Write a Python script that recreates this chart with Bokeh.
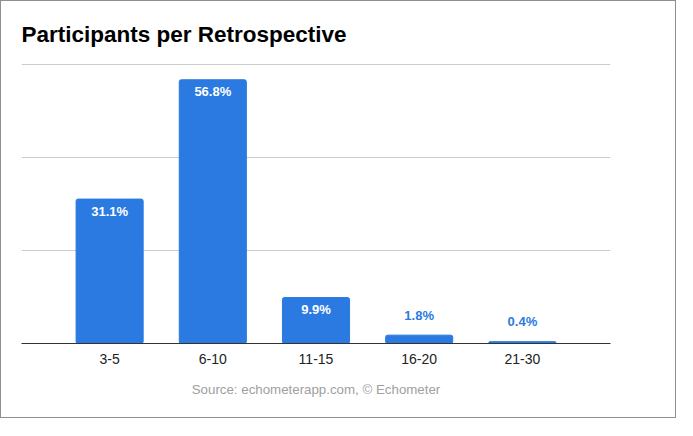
from bokeh.plotting import figure
from bokeh.models import ColumnDataSource, FactorRange, Title
from bokeh.core.properties import value
from bokeh.embed import file_html
from bokeh.resources import INLINE

categories = ["3-5", "6-10", "11-15", "16-20", "21-30"]
shares = [31.1, 56.8, 9.9, 1.8, 0.4]
labels = ["31.1%", "56.8%", "9.9%", "1.8%", "0.4%"]
y_ticks = [0, 20, 40, 60]

BLUE = "#2a7ae2"
FONT = "Liberation Sans"

p = figure(
    width=676, height=418,
    x_range=FactorRange(factors=categories, range_padding=0.354, range_padding_units="absolute"),
    y_range=(0, 60.3),
    output_backend="svg", toolbar_location=None,
    min_border_left=20, min_border_right=67, min_border_top=62, min_border_bottom=76,
)
p.styles = {"border": "1px solid #8f8f8f", "box-sizing": "border-box"}

p.title.text = "Participants per Retrospective"
p.title.text_font = FONT
p.title.text_font_size = "22.5px"
p.title.text_font_style = "bold"
p.title.text_color = "#000000"
p.title.align = "left"
p.title.standoff = 34

src = ColumnDataSource(dict(cat=categories, v=shares, lab=labels))
p.vbar(x="cat", top="v", bottom=0, width=0.65, source=src, color=BLUE,
       border_radius=2)

inside = [i for i, v in enumerate(shares) if v >= 5]
outside = [i for i, v in enumerate(shares) if v < 5]
src_in = ColumnDataSource(dict(cat=[categories[i] for i in inside],
                               v=[shares[i] for i in inside],
                               lab=[labels[i] for i in inside]))
src_out = ColumnDataSource(dict(cat=[categories[i] for i in outside],
                                v=[shares[i] for i in outside],
                                lab=[labels[i] for i in outside]))
p.text(x="cat", y="v", text="lab", source=src_in, text_color="white",
       text_font=value(FONT), text_font_size="13px", text_font_style="bold",
       text_align="center", text_baseline="middle", y_offset=12)
p.text(x="cat", y="v", text="lab", source=src_out, text_color=BLUE,
       text_font=value(FONT), text_font_size="13px", text_font_style="bold",
       text_align="center", text_baseline="middle", y_offset=-20)

p.yaxis.visible = False
p.ygrid.ticker = y_ticks
p.ygrid.grid_line_color = "#cccccc"
p.xgrid.visible = False
p.outline_line_color = None

ax = p.xaxis[0]
ax.axis_line_color = "#333333"
ax.axis_line_width = 1
ax.major_tick_line_color = None
ax.minor_tick_line_color = None
ax.major_label_text_font = FONT
ax.major_label_text_font_size = "14px"
ax.major_label_text_color = "#222222"
ax.major_label_standoff = 4

src_title = Title(text="Source: echometerapp.com, © Echometer", align="center",
                  text_font=FONT, text_font_size="13.3px", text_font_style="normal",
                  text_color="#a0a0a0", standoff=26)
p.add_layout(src_title, "below")

open("out.html", "w").write(file_html(p, INLINE))
